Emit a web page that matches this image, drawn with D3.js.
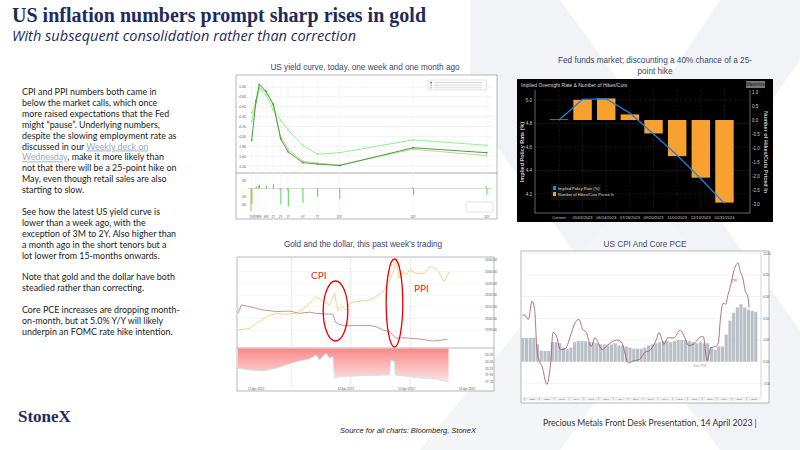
<!DOCTYPE html>
<html>
<head>
<meta charset="utf-8">
<script src="https://cdn.jsdelivr.net/npm/d3@7"></script>
<style>
  body { margin: 0; background: #fff; }
  svg { display: block; font-family: Lato, "Open Sans", sans-serif; }
</style>
</head>
<body>
<svg id="slide" width="800" height="450"></svg>
<script>
// ---- yield curve ----
const tenors = ['1M', '2M', '3M', '6M', '1Y', '2Y', '3Y', '5Y', '7Y', '10Y', '20Y', '30Y'];
const tenorYears = [1/12, 1/6, 0.25, 0.5, 1, 2, 3, 5, 7, 10, 20, 30];
const yieldToday = [3.92, 4.72, 5.05, 4.91, 4.65, 3.95, 3.69, 3.47, 3.44, 3.41, 3.77, 3.67];
const yieldWeek = [4.47, 4.71, 4.98, 4.91, 4.64, 3.99, 3.74, 3.50, 3.46, 3.42, 3.74, 3.61];
const yieldMonth = [4.30, 4.67, 4.97, 4.84, 4.54, 4.33, 4.13, 3.82, 3.64, 3.67, 3.93, 3.82];
const chgMonth = [-38, 5, 8, 7, 10, -38, -44, -35, -20, -26, -16, -15];
const chgWeek = [-55, 1, 7, 0, 1, -4, -5, -3, -2, -1, 3, 6];

// ---- fed funds ----
const meetings = ['Current', '05/03/2023', '06/14/2023', '07/26/2023', '09/20/2023', '11/01/2023', '12/13/2023', '01/31/2024'];
const impliedRate = [4.83, 5.005, 5.01, 4.89, 4.71, 4.53, 4.33, 4.12];
const hikesPriced = [0.02, 0.72, 0.77, 0.2, -0.48, -1.29, -2.06, -2.95];

// ---- gold & dollar (hours since start of window) ----
const goldHours = [0, 4.8, 7.5, 11.7, 15.8, 19.9, 24, 28.1, 32.2, 35, 37.7, 39.8, 41.1, 43.2, 44.6, 45.9, 48.7, 54.2, 56.9, 59.7, 62.4, 64.5, 65.1, 66.5, 67.9, 69.3, 70.6, 73.4, 76.8, 78.9, 81.6, 83, 85, 87.1];
const goldPrice = [1990, 1991.4, 1995.7, 2001.4, 2004.3, 2003.4, 2004.3, 2010, 2018.6, 2014.3, 2011.4, 2021.4, 2007.1, 2010, 2007.1, 2012.9, 2014.3, 2015.7, 2018.6, 2022.9, 2031.4, 2042.9, 2051.4, 2034.3, 2040, 2037.1, 2041.4, 2038.6, 2038.6, 2044.3, 2042.9, 2038.6, 2031.4, 2040];
const dxyHours = [0, 1.4, 4.8, 10.3, 15.8, 21.3, 25.4, 29.5, 32.2, 36.3, 39.1, 40.2, 41.8, 44.6, 48.7, 54.2, 56.9, 59.7, 62.4, 65.1, 67.9, 70.6, 76.1, 80.2, 84.3, 86.4];
const dxyValue = [102.0, 102.38, 102.3, 102.15, 102.08, 102.1, 102.0, 102.05, 102.0, 101.97, 101.96, 101.6, 101.5, 101.43, 101.45, 101.45, 101.4, 101.25, 101.18, 100.88, 100.9, 100.88, 100.83, 100.75, 100.8, 100.83];
const ratioHours = [0, 4.8, 10.3, 15.8, 24, 29.5, 32.2, 33.6, 36.3, 37.7, 39.1, 39.8, 41.8, 51.4, 62.4, 63.1, 64.5, 64.8, 73.4, 81.6, 85.7, 86.8];
const ratioValue = [20.1, 20.05, 20.02, 20.1, 20.3, 20.38, 20.5, 20.35, 20.55, 20.4, 20.45, 19.8, 19.85, 19.88, 19.9, 20.35, 20.3, 19.9, 19.82, 19.78, 19.7, 19.7];
const dayLabels = ['11 Apr 2023', '12 Apr 2023', '13 Apr 2023', '14 Apr 2023'];
const dayHours = [0, 37, 62, 87];

// ---- CPI & core PCE ----
const cpiDates = ['2007-11', '2008-01', '2008-04', '2008-07', '2008-09', '2008-11', '2009-01', '2009-03', '2009-07', '2009-10', '2009-12', '2010-03', '2010-06', '2010-10', '2011-03', '2011-06', '2011-09', '2011-12', '2012-03', '2012-07', '2012-10', '2013-04', '2013-08', '2014-04', '2014-08', '2015-01', '2015-06', '2015-10', '2016-03', '2016-06', '2016-12', '2017-02', '2017-06', '2017-09', '2018-02', '2018-07', '2018-11', '2019-02', '2019-06', '2019-12', '2020-02', '2020-05', '2020-08', '2020-12', '2021-02', '2021-04', '2021-06', '2021-08', '2021-10', '2021-12', '2022-03', '2022-06', '2022-08', '2022-10', '2022-12', '2023-02', '2023-03'];
const cpiValue = [4.3, 4.3, 3.9, 5.6, 4.9, 1.1, 0.0, -0.4, -2.1, -0.2, 2.7, 2.3, 1.1, 1.2, 2.7, 3.6, 3.9, 3.0, 2.7, 1.4, 2.2, 1.1, 1.5, 2.0, 1.7, -0.1, 0.1, 0.2, 0.9, 1.0, 2.1, 2.7, 1.6, 2.2, 2.2, 2.9, 2.2, 1.5, 1.6, 2.3, 2.3, 0.1, 1.3, 1.4, 1.7, 4.2, 5.4, 5.3, 6.2, 7.0, 8.5, 9.1, 8.3, 7.7, 6.5, 6.0, 5.0];
const pceStart = 2007.75; // quarterly bars
const pceValue = [2.2, 2.2, 2.2, 2.2, 1.6, 1.0, 1.0, 1.0, 1.8, 1.8, 1.7, 1.3, 1.2, 1.3, 1.8, 1.9, 1.9, 1.9, 1.8, 1.8, 1.7, 1.6, 1.6, 1.5, 1.6, 1.7, 1.5, 1.5, 1.4, 1.3, 1.2, 1.2, 1.2, 1.3, 1.5, 1.6, 1.7, 1.8, 1.9, 1.9, 1.8, 1.9, 2.0, 2.0, 2.0, 1.9, 1.8, 1.7, 1.8, 1.7, 1.7, 1.3, 1.1, 1.4, 1.4, 2.5, 3.8, 4.5, 5.0, 5.3, 5.0, 4.8, 4.7, 4.6];
const cpiYears = d3.range(2008, 2024);

const paragraphs = [
  ['CPI and PPI numbers both came in', 'below the market calls, which once', 'more raised expectations that the Fed', 'might \u201cpause\u201d.  Underlying numbers,', 'despite the slowing employment rate as', 'discussed in our |Weekly deck on|', '|Wednesday|, make it more likely than', 'not that there will be a 25-point hike on', 'May, even though retail sales are also', 'starting to slow.'],
  ['See how the latest US yield curve is', 'lower than a week ago, with the', 'exception of 3M to 2Y.  Also higher than', 'a month ago in the short tenors but a', 'lot lower from 15-months onwards.'],
  ['Note that gold and the dollar have both', 'steadied rather than correcting.'],
  ['Core PCE increases are dropping month-', 'on-month, but at 5.0% Y/Y will likely', 'underpin an FOMC rate hike intention.']
];

const svg = d3.select('#slide');
const navy = '#1e2b5c';

// faint background X
svg.append('path').attr('fill', '#f2f3f6')
  .attr('d', 'M470,0 L560,0 L800,330 L800,450 L720,450 L470,110 Z');
svg.append('path').attr('fill', '#f2f3f6')
  .attr('d', 'M720,0 L800,0 L800,60 L660,260 L600,180 Z');
svg.append('path').attr('fill', '#f4f5f7')
  .attr('d', 'M420,450 L640,180 L700,260 L560,450 Z');

// titles
svg.append('text').attr('x', 12).attr('y', 22).attr('fill', navy)
  .attr('font-family', '"Liberation Serif", "DejaVu Serif", serif').attr('font-weight', 'bold')
  .attr('font-size', 20).attr('textLength', 414).text('US inflation numbers prompt sharp rises in gold');
svg.append('text').attr('x', 12).attr('y', 41).attr('fill', navy)
  .attr('font-family', '"Open Sans", sans-serif').attr('font-style', 'italic')
  .attr('font-size', 14.5).attr('textLength', 344).text('With subsequent consolidation rather than correction');

// left text
let ty = 95;
paragraphs.forEach(p => {
  p.forEach(line => {
    const t = svg.append('text').attr('x', 22).attr('y', ty).attr('font-size', 8.9).attr('fill', '#1a1a1a');
    line.split('|').forEach((part, i) => {
      const s = t.append('tspan').text(part);
      if (i % 2 === 1) s.attr('fill', '#9aa6c4').attr('text-decoration', 'underline');
    });
    ty += 10.9;
  });
  ty += 10.9;
});

svg.append('text').attr('x', 18).attr('y', 422).attr('fill', navy)
  .attr('font-family', '"Liberation Serif", serif').attr('font-weight', 'bold').attr('font-size', 17).text('StoneX');
svg.append('text').attr('x', 340).attr('y', 433).attr('font-size', 7.5).attr('font-style', 'italic').attr('fill', '#222')
  .attr('font-family', '"Liberation Sans", Arial, sans-serif').text('Source for all charts: Bloomberg, StoneX');
svg.append('text').attr('x', 543).attr('y', 426).attr('font-size', 8.6).attr('fill', '#333')
  .text('Precious Metals Front Desk Presentation, 14 April 2023 |');

function chartTitle(x, y, txt) {
  svg.append('text').attr('x', x).attr('y', y).attr('text-anchor', 'middle')
    .attr('font-family', 'Arial, "Liberation Sans", sans-serif').attr('font-size', 8.2).attr('fill', '#3a4670').text(txt);
}

// ===== US yield curve =====
chartTitle(365, 70, 'US yield curve, today, one week and one month ago');
{
  const g = svg.append('g');
  g.append('rect').attr('x', 236).attr('y', 75).attr('width', 261).attr('height', 144).attr('fill', '#fff').attr('stroke', '#999').attr('stroke-width', 0.7);
  g.append('line').attr('x1', 236).attr('x2', 497).attr('y1', 173).attr('y2', 173).attr('stroke', '#888').attr('stroke-width', 0.7);
  const x = d3.scaleLinear().domain([1/12, 1/6, 0.25, 0.5, 1, 30]).range([251.7, 256, 259.3, 266, 273.3, 486.7]);
  const y = d3.scaleLinear().domain([3.3, 5.1]).range([171, 82]);
  const yb = d3.scaleLinear().domain([-62, 30]).range([214, 176]);
  y.ticks(9).forEach(v => {
    g.append('line').attr('x1', 248).attr('x2', 492).attr('y1', y(v)).attr('y2', y(v)).attr('stroke', '#e4e4e4').attr('stroke-width', 0.5);
    g.append('text').attr('x', 246).attr('y', y(v) + 1.5).attr('text-anchor', 'end').attr('font-size', 3.5).attr('fill', '#666').text(v.toFixed(2));
  });
  tenorYears.forEach(t => {
    g.append('line').attr('x1', x(t)).attr('x2', x(t)).attr('y1', 77).attr('y2', 215).attr('stroke', '#eee').attr('stroke-width', 0.5);
  });
  g.append('line').attr('x1', 248).attr('x2', 492).attr('y1', yb(0)).attr('y2', yb(0)).attr('stroke', '#aaa').attr('stroke-width', 0.5);
  [20, -20, -40].forEach(v => g.append('text').attr('x', 246).attr('y', yb(v) + 1.5).attr('text-anchor', 'end').attr('font-size', 3.5).attr('fill', '#666').text(v));
  tenors.forEach((t, i) => g.append('text').attr('x', x(tenorYears[i])).attr('y', 217.5).attr('text-anchor', 'middle').attr('font-size', 3).attr('fill', '#666').text(t));
  const line = d3.line().x((d, i) => x(tenorYears[i])).y(d => y(d)).curve(d3.curveLinear);
  [[yieldMonth, '#8ef28e'], [yieldWeek, '#d8c8a0'], [yieldToday, '#3aa83a']].forEach(([s, c]) => {
    g.append('path').attr('d', line(s)).attr('fill', 'none').attr('stroke', c).attr('stroke-width', 1);
    g.selectAll(null).data(s).join('rect').attr('x', (d, i) => x(tenorYears[i]) - 0.8).attr('y', d => y(d) - 0.8)
      .attr('width', 1.6).attr('height', 1.6).attr('fill', c);
  });
  tenorYears.forEach((t, i) => {
    g.append('rect').attr('x', x(t) - 1.2).attr('width', 0.9).attr('y', Math.min(yb(0), yb(chgWeek[i]))).attr('height', Math.abs(yb(chgWeek[i]) - yb(0))).attr('fill', '#d8a050');
    g.append('rect').attr('x', x(t) - 0.2).attr('width', 0.9).attr('y', Math.min(yb(0), yb(chgMonth[i]))).attr('height', Math.abs(yb(chgMonth[i]) - yb(0))).attr('fill', '#33dd33');
  });
  g.append('rect').attr('x', 428).attr('y', 80).attr('width', 58).attr('height', 10).attr('fill', '#fff').attr('stroke', '#bbb').attr('stroke-width', 0.4);
  ['#3aa83a', '#8ef28e', '#d8c8a0'].forEach((c, i) => {
    g.append('rect').attr('x', 430).attr('y', 81.8 + i * 2.6).attr('width', 2).attr('height', 1.6).attr('fill', c);
    g.append('line').attr('x1', 434).attr('x2', 482).attr('y1', 82.6 + i * 2.6).attr('y2', 82.6 + i * 2.6).attr('stroke', '#bbb').attr('stroke-width', 0.6);
  });
  g.append('rect').attr('x', 466).attr('y', 202).attr('width', 27).attr('height', 10).attr('fill', '#fff').attr('stroke', '#bbb').attr('stroke-width', 0.4);
}

// ===== Fed funds =====
chartTitle(655, 63, 'Fed funds market; discounting a 40% chance of a 25-');
chartTitle(655, 74, 'point hike');
{
  const g = svg.append('g').attr('font-family', '"Liberation Sans Narrow", "Liberation Sans", sans-serif');
  g.append('rect').attr('x', 517).attr('y', 79).attr('width', 256).attr('height', 143).attr('fill', '#000');
  g.append('text').attr('x', 521).attr('y', 86.5).attr('font-size', 5).attr('fill', '#ddd').text('Implied Overnight Rate & Number of Hikes/Cuts');
  g.append('rect').attr('x', 746).attr('y', 81).attr('width', 19).attr('height', 7).attr('fill', '#777');
  g.append('text').attr('x', 755.5).attr('y', 86.3).attr('text-anchor', 'middle').attr('font-size', 4.5).attr('fill', '#111').text('Maximize');
  const x = d3.scaleBand().domain(meetings).range([544.5, 738.9]).padding(0.22);
  const yl = d3.scaleLinear().domain([4.2, 5.0]).range([194, 100]);
  const yr = d3.scaleLinear().domain([0, 1]).range([120, 92]);
  const top = 90, bot = 213;
  [4.2, 4.4, 4.6, 4.8, 5.0].forEach(v => {
    g.append('line').attr('x1', 535).attr('x2', 750).attr('y1', yl(v)).attr('y2', yl(v)).attr('stroke', '#555').attr('stroke-width', 0.4).attr('stroke-dasharray', '1,1.5');
    g.append('text').attr('x', 532).attr('y', yl(v) + 1.8).attr('text-anchor', 'end').attr('font-size', 4.5).attr('fill', '#ccc').text(v.toFixed(1));
  });
  meetings.forEach(m => g.append('line').attr('x1', x(m) + x.bandwidth() / 2).attr('x2', x(m) + x.bandwidth() / 2).attr('y1', top).attr('y2', bot).attr('stroke', '#555').attr('stroke-width', 0.4).attr('stroke-dasharray', '1,1.5'));
  g.append('line').attr('x1', 535).attr('x2', 535).attr('y1', top).attr('y2', bot).attr('stroke', '#ccc').attr('stroke-width', 0.5);
  g.append('line').attr('x1', 750).attr('x2', 750).attr('y1', top).attr('y2', bot).attr('stroke', '#ccc').attr('stroke-width', 0.5);
  g.append('line').attr('x1', 535).attr('x2', 750).attr('y1', bot).attr('y2', bot).attr('stroke', '#ccc').attr('stroke-width', 0.5);
  d3.range(1.0, -3.01, -0.5).forEach(v => {
    g.append('text').attr('x', 752).attr('y', yr(v) + 1.8).attr('font-size', 4.5).attr('fill', '#ccc').text(v.toFixed(1));
  });
  g.selectAll(null).data(hikesPriced).join('rect')
    .attr('x', (d, i) => x(meetings[i])).attr('width', x.bandwidth())
    .attr('y', d => Math.min(yr(d), yr(0))).attr('height', d => Math.max(0.6, Math.abs(yr(d) - yr(0))))
    .attr('fill', '#f9a12e');
  g.append('path').attr('d', d3.line().x((d, i) => x(meetings[i]) + x.bandwidth() / 2).y(d => yl(d))(impliedRate))
    .attr('fill', 'none').attr('stroke', '#1b82e6').attr('stroke-width', 1.3);
  meetings.forEach(m => g.append('text').attr('x', x(m) + x.bandwidth() / 2).attr('y', 219).attr('text-anchor', 'middle').attr('font-size', 4).attr('fill', '#ccc').text(m));
  g.append('text').attr('transform', 'translate(524,152) rotate(-90)').attr('text-anchor', 'middle').attr('font-size', 5.5).attr('font-weight', 'bold').attr('fill', '#ccc').text('Implied Policy Rate (%)');
  g.append('text').attr('transform', 'translate(764,152) rotate(90)').attr('text-anchor', 'middle').attr('font-size', 5.5).attr('font-weight', 'bold').attr('fill', '#ccc').text('Number of Hikes/Cuts Priced In');
  g.append('rect').attr('x', 551).attr('y', 184).attr('width', 50).attr('height', 16).attr('fill', '#111');
  [['#1b82e6', 'Implied Policy Rate (%)'], ['#f9a12e', 'Number of Hikes/Cuts Priced In']].forEach(([c, t], i) => {
    g.append('rect').attr('x', 553).attr('y', 186 + i * 6).attr('width', 3).attr('height', 4).attr('fill', c);
    g.append('text').attr('x', 558).attr('y', 189.5 + i * 6).attr('font-size', 4).attr('fill', '#ddd').text(t);
  });
}

// ===== Gold and dollar =====
chartTitle(363, 247, 'Gold and the dollar, this past week\u2019s trading');
{
  const g = svg.append('g');
  g.append('rect').attr('x', 237).attr('y', 257).attr('width', 257).attr('height', 134).attr('fill', '#fff').attr('stroke', '#999').attr('stroke-width', 0.7);
  const x = d3.scaleLinear().domain([0, 101]).range([238, 483]);
  const yg = d3.scaleLinear().domain([1980, 2050]).range([341.7, 260]);
  const yd = d3.scaleLinear().domain([100.6, 102.6]).range([344.4, 300]);
  const yr = d3.scaleLinear().domain([19.3, 20.7]).range([395, 348.3]);
  [1990, 2000, 2010, 2020, 2030, 2040, 2050].forEach(v => {
    g.append('line').attr('x1', 238).attr('x2', 483).attr('y1', yg(v)).attr('y2', yg(v)).attr('stroke', '#eee').attr('stroke-width', 0.5);
    g.append('text').attr('x', 485).attr('y', yg(v) + 1.2).attr('font-size', 3.2).attr('fill', '#666').text(v.toFixed(2));
  });
  [19.7, 19.9, 20.1, 20.3, 20.5].forEach(v => g.append('text').attr('x', 485).attr('y', yr(v) + 1.2).attr('font-size', 3.2).attr('fill', '#666').text(v.toFixed(2)));
  [22, 46.5, 71].forEach(h => g.append('line').attr('x1', x(h)).attr('x2', x(h)).attr('y1', 258).attr('y2', 388).attr('stroke', '#bbb').attr('stroke-width', 0.5).attr('stroke-dasharray', '1.5,1'));
  g.append('line').attr('x1', 237).attr('x2', 494).attr('y1', 348).attr('y2', 348).attr('stroke', '#888').attr('stroke-width', 0.6);
  const grad = svg.append('defs').append('linearGradient').attr('id', 'pink').attr('x1', 0).attr('x2', 0).attr('y1', 0).attr('y2', 1);
  grad.append('stop').attr('offset', '0%').attr('stop-color', '#f98a8a');
  grad.append('stop').attr('offset', '100%').attr('stop-color', '#fde4e4');
  const rat = ratioHours.map((h, i) => [h, ratioValue[i]]);
  g.append('path').attr('d', d3.area().x(d => x(d[0])).y0(348.5).y1(d => yr(d[1]))(rat)).attr('fill', 'url(#pink)');
  g.append('path').attr('d', d3.line().x(d => x(d[0])).y(d => yr(d[1]))(rat)).attr('fill', 'none').attr('stroke', '#bfe8ee').attr('stroke-width', 0.8);
  g.append('path').attr('d', d3.line().x((d, i) => x(dxyHours[i])).y(d => yd(d))(dxyValue)).attr('fill', 'none').attr('stroke', '#b57a7a').attr('stroke-width', 0.8);
  g.append('path').attr('d', d3.line().x((d, i) => x(goldHours[i])).y(d => yg(d))(goldPrice)).attr('fill', 'none').attr('stroke', '#f8c56a').attr('stroke-width', 0.8);
  dayLabels.forEach((d, i) => g.append('text').attr('x', x(dayHours[i] + 4)).attr('y', 390).attr('font-size', 3).attr('fill', '#666').text(d));
  g.append('ellipse').attr('cx', x(40.2)).attr('cy', 311).attr('rx', 12.3).attr('ry', 30).attr('fill', 'none').attr('stroke', '#e00').attr('stroke-width', 1.3);
  g.append('ellipse').attr('cx', x(64.5)).attr('cy', 303).attr('rx', 8.3).attr('ry', 44).attr('fill', 'none').attr('stroke', '#e00').attr('stroke-width', 1.3);
  g.append('text').attr('x', 311).attr('y', 279).attr('font-size', 10).attr('fill', '#e22').text('CPI');
  g.append('text').attr('x', 414).attr('y', 292).attr('font-size', 10).attr('fill', '#e22').text('PPI');
}

// ===== CPI and core PCE =====
chartTitle(645, 247, 'US CPI And Core PCE');
{
  const g = svg.append('g');
  g.append('rect').attr('x', 521).attr('y', 251).attr('width', 248).attr('height', 152).attr('fill', '#fff').attr('stroke', '#999').attr('stroke-width', 0.7);
  const parse = d3.timeParse('%Y-%m');
  const yearFrac = d => d.getFullYear() + d.getMonth() / 12;
  const x = d3.scaleLinear().domain([2007.8, 2023.3]).range([521.7, 751]);
  const y = d3.scaleLinear().domain([-3, 10]).range([394.2, 253.3]);
  [-2, 0, 2, 4, 6, 8, 10].forEach(v => {
    g.append('line').attr('x1', 522).attr('x2', 761).attr('y1', y(v)).attr('y2', y(v)).attr('stroke', '#e6e6e6').attr('stroke-width', 0.5);
    g.append('text').attr('x', 763).attr('y', y(v) + 1.2).attr('font-size', 3).attr('fill', '#666').text(v.toFixed(2));
  });
  g.append('line').attr('x1', 761).attr('x2', 761).attr('y1', 253).attr('y2', 397).attr('stroke', '#aaa').attr('stroke-width', 0.5);
  g.selectAll(null).data(pceValue).join('rect')
    .attr('x', (d, i) => x(pceStart + i * 0.25) + 0.3).attr('width', x(0.25) - x(0) - 0.6)
    .attr('y', d => y(d)).attr('height', d => y(0) - y(d)).attr('fill', '#b9bfc6');
  g.append('path').attr('d', d3.line().x((d, i) => x(yearFrac(parse(cpiDates[i])))).y(d => y(d)).curve(d3.curveMonotoneX)(cpiValue))
    .attr('fill', 'none').attr('stroke', '#a0505a').attr('stroke-width', 0.8);
  g.append('text').attr('x', 732).attr('y', 282).attr('font-size', 3.2).attr('fill', '#a0505a').text('CPI');
  g.append('text').attr('x', 693).attr('y', 367).attr('font-size', 3.2).attr('fill', '#999').text('Core PCE');
  g.append('rect').attr('x', 522).attr('y', 397).attr('width', 239).attr('height', 3.5).attr('fill', '#eee');
  cpiYears.forEach(yr => {
    g.append('line').attr('x1', x(yr)).attr('x2', x(yr)).attr('y1', 397).attr('y2', 400.5).attr('stroke', '#999').attr('stroke-width', 0.4);
    g.append('text').attr('x', x(yr + 0.5)).attr('y', 399.8).attr('text-anchor', 'middle').attr('font-size', 2.3).attr('fill', '#666').text(yr);
  });
}
</script>
</body>
</html>
